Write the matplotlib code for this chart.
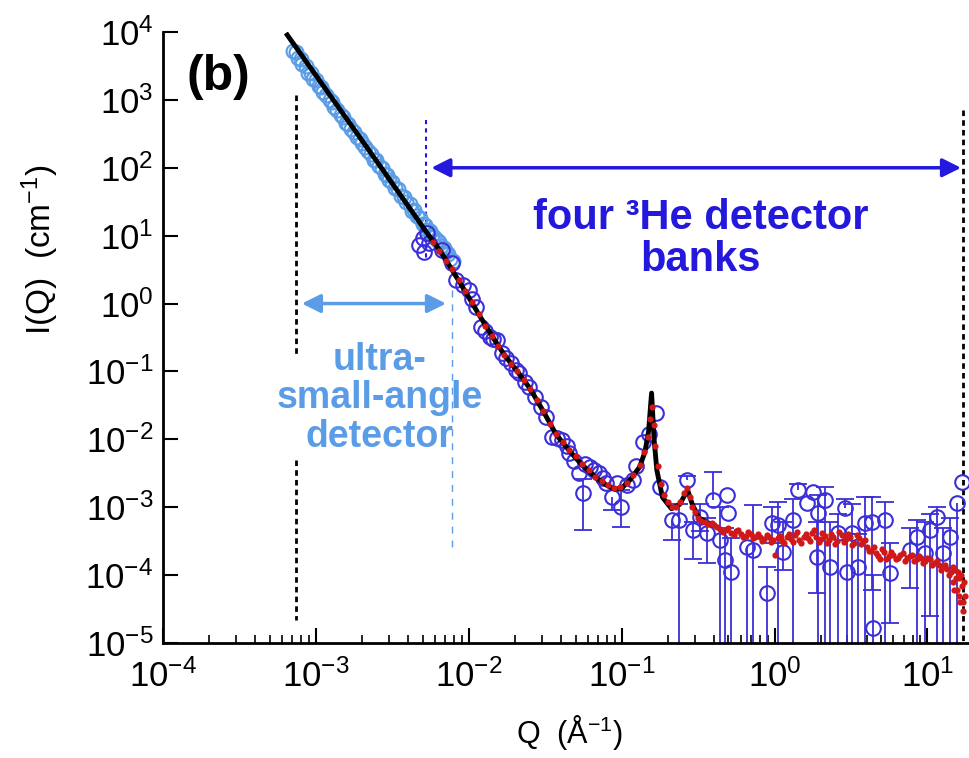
import matplotlib
matplotlib.use("Agg")
import matplotlib.pyplot as plt
from matplotlib.ticker import LogLocator, NullLocator
import numpy as np

plt.rcParams['font.family'] = ['Liberation Sans', 'DejaVu Sans']
plt.rcParams['mathtext.fontset'] = 'custom'
plt.rcParams['mathtext.rm'] = 'Liberation Sans'
plt.rcParams['mathtext.it'] = 'Liberation Sans:italic'
plt.rcParams['mathtext.bf'] = 'Liberation Sans:bold'

# ---- model fit (black line)
q_fit = [6.5e-4, 1.22e-3, 2.6e-3, 5.27e-3, 6.5e-3, 7.8e-3, 9.5e-3, 0.0116, 0.0141, 0.0171,
         0.0208, 0.0253, 0.0307, 0.0373, 0.045, 0.053, 0.061, 0.070, 0.080, 0.090,
         0.100, 0.113, 0.131, 0.142, 0.150, 0.157, 0.163, 0.170, 0.185, 0.212,
         0.24, 0.27, 0.29, 0.32, 0.36, 0.40]
i_fit = [9040, 1222, 110, 11.4, 6.0, 3.1, 1.5, 0.70, 0.34, 0.175,
         0.10, 0.055, 0.026, 0.0118, 7.0e-3, 4.6e-3, 3.4e-3, 2.6e-3, 2.1e-3, 1.85e-3,
         1.9e-3, 2.5e-3, 3.9e-3, 6.5e-3, 0.013, 0.048, 0.010, 3.5e-3, 1.4e-3, 9.5e-4,
         1.1e-3, 1.8e-3, 1.1e-3, 7.0e-4, 6.0e-4, 5.5e-4]

# ---- ultra-small-angle detector data (light blue circles, two interleaved runs)
q_usans = [7.08e-4, 7.59e-4, 8.13e-4, 8.91e-4, 9.55e-4, 1.05e-3, 1.12e-3, 1.23e-3,
           1.32e-3, 1.45e-3, 1.58e-3, 1.70e-3, 1.86e-3, 2.0e-3, 2.19e-3, 2.40e-3,
           2.57e-3, 2.82e-3, 3.02e-3, 3.31e-3, 3.63e-3, 3.89e-3, 4.27e-3, 4.57e-3,
           5.01e-3, 5.37e-3, 5.75e-3, 6.17e-3, 6.61e-3, 7.08e-3, 7.59e-3,
           7.4e-4, 8.0e-4, 8.6e-4, 9.3e-4, 1.0e-3, 1.08e-3, 1.17e-3, 1.27e-3,
           1.38e-3, 1.5e-3, 1.63e-3, 1.77e-3, 1.93e-3, 2.1e-3, 2.3e-3, 2.48e-3,
           2.7e-3, 2.92e-3, 3.16e-3, 3.45e-3, 3.76e-3, 4.1e-3, 4.4e-3, 4.8e-3,
           5.2e-3, 5.55e-3, 5.95e-3, 6.4e-3, 6.85e-3, 7.35e-3, 7.9e-3]
i_usans = [5200, 4200, 3400, 2500, 2050, 1580, 1290, 980,
           790, 600, 455, 370, 280, 230, 174, 132,
           107, 81, 66, 50, 38, 31, 23.4, 19.5,
           14.8, 12.3, 10.2, 8.5, 7.1, 5.8, 4.6,
           5050, 3940, 3150, 2450, 1950, 1550, 1200, 930,
           720, 560, 440, 340, 265, 205, 158, 128,
           99, 79, 62, 48, 37.5, 29, 23.5, 18.2,
           14.3, 11.8, 9.4, 8.0, 6.6, 5.4, 4.3]

# ---- 3He detector bank data (dark blue circles) with lower / upper error bounds
q_sans = [4.7e-3, 5.0e-3, 5.1e-3, 5.5e-3, 5.3e-3, 6.7e-3, 7.8e-3, 8.3e-3, 0.0101, 0.0112,
          0.0121, 0.0137, 0.0154, 0.0166, 0.019, 0.0214, 0.0249, 0.0299, 0.0322, 0.0352,
          0.041, 0.0456, 0.053, 0.0555, 0.0617, 0.0716, 0.0796, 0.0871, 0.0998, 0.118,
          0.137, 0.169, 0.177, 0.212, 0.239, 0.266, 0.291, 0.324, 0.36, 0.394,
          0.438, 0.472, 0.486, 0.50, 0.52, 0.658, 0.72, 0.89, 0.97, 1.05,
          1.13, 1.32, 1.42, 1.62, 1.78, 1.92, 1.89, 2.13, 2.30, 2.60,
          2.88, 3.0, 3.20, 3.51, 3.90, 4.34, 4.4, 5.27, 5.68, 7.67,
          8.53, 9.62, 10.4, 11.5, 12.6, 14.0, 15.6, 16.8,
          0.0092, 0.0105, 0.0128, 0.0145, 0.0176, 0.0203, 0.0232, 0.0272, 0.038, 0.044,
          0.049, 0.058, 0.066, 0.075, 0.093, 0.108, 0.125, 0.152]
i_sans = [7.3, 9.2, 5.8, 7.8, 11.0, 6.2, 4.0, 2.2, 1.6, 0.89,
          0.45, 0.32, 0.29, 0.19, 0.133, 0.095, 0.059, 0.030, 0.021, 0.0108,
          9.8e-3, 6.3e-3, 3.2e-3, 1.63e-3, 3.9e-3, 3.2e-3, 2.28e-3, 1.42e-3, 1.0e-3, 2.5e-3,
          9.2e-3, 0.0245, 2.0e-3, 6.5e-4, 6.5e-4, 2.5e-3, 4.6e-4, 7.2e-4, 4.2e-4, 1.28e-3,
          3.3e-4, 1.67e-4, 1.52e-3, 8.2e-4, 1.1e-4, 2.6e-4, 2.35e-4, 5.5e-5, 5.9e-4, 5.5e-4,
          2.2e-4, 6.5e-4, 1.8e-3, 1.16e-3, 1.68e-3, 8.2e-4, 1.85e-4, 1.28e-3, 1.32e-4, 4.2e-4,
          9.8e-4, 1.1e-4, 4.2e-4, 1.3e-4, 5.9e-4, 6.1e-4, 1.67e-5, 6.5e-4, 1.08e-4, 2.35e-4,
          3.66e-4, 2.1e-4, 4.6e-4, 7.2e-4, 2.1e-4, 3.66e-4, 1.16e-3, 2.36e-3,
          1.9, 1.15, 0.40, 0.30, 0.16, 0.105, 0.070, 0.042, 0.0105, 8.0e-3,
          4.8e-3, 4.3e-3, 3.5e-3, 2.7e-3, 2.3e-3, 2.1e-3, 4.0e-3, 0.012]
i_sans_lo = [7.3, 9.2, 5.8, 7.8, 11.0, 6.2, 4.0, 2.2, 1.6, 0.89,
             0.45, 0.32, 0.29, 0.19, 0.133, 0.095, 0.059, 0.030, 0.021, 0.0108,
             9.8e-3, 6.3e-3, 3.2e-3, 4.6e-4, 3.9e-3, 3.2e-3, 2.28e-3, 9e-4, 5.1e-4, 2.5e-3,
             9.2e-3, 0.0245, 2.0e-3, 3.3e-4, 1e-6, 2.5e-3, 1.7e-4, 4.5e-4, 1.5e-4, 1.28e-3,
             1e-6, 1e-6, 1.52e-3, 8.2e-4, 1e-6, 1e-6, 1e-6, 1e-6, 3.0e-4, 1e-6,
             1.2e-4, 1e-6, 1.8e-3, 1.16e-3, 1.68e-3, 1e-6, 5.5e-5, 1e-6, 1e-6, 1e-6,
             9.8e-4, 1e-6, 1e-6, 1e-6, 1e-6, 6e-5, 1e-6, 1e-6, 2.0e-5, 6.5e-5,
             1e-6, 1e-6, 2.5e-5, 1e-6, 1e-6, 1e-6, 1e-6, 2.36e-3,
             1.9, 1.15, 0.40, 0.30, 0.16, 0.105, 0.070, 0.042, 0.0105, 8.0e-3,
             4.8e-3, 4.3e-3, 3.5e-3, 2.7e-3, 2.3e-3, 2.1e-3, 4.0e-3, 0.012]
i_sans_hi = [7.3, 9.2, 5.8, 7.8, 11.0, 6.2, 4.0, 2.2, 1.6, 0.89,
             0.45, 0.32, 0.29, 0.19, 0.133, 0.095, 0.059, 0.030, 0.021, 0.0108,
             9.8e-3, 6.3e-3, 3.2e-3, 2.6e-3, 3.9e-3, 3.2e-3, 2.28e-3, 1.42e-3, 1.8e-3, 2.5e-3,
             9.2e-3, 0.0245, 2.0e-3, 6.5e-4, 1.1e-3, 2.9e-3, 6e-4, 1.1e-3, 7e-4, 3.3e-3,
             1.0e-3, 5e-4, 1.52e-3, 8.2e-4, 3.5e-4, 2.6e-4, 1.08e-3, 1.3e-4, 1.0e-3, 1.2e-3,
             6.0e-4, 1.3e-3, 2.2e-3, 1.16e-3, 1.68e-3, 1.5e-3, 6e-4, 2.0e-3, 6e-4, 8e-4,
             1.3e-3, 4e-4, 1.1e-3, 4e-4, 1.4e-3, 1.4e-3, 1e-4, 1.2e-3, 3e-4, 5e-4,
             6.5e-4, 6e-4, 8e-4, 1.0e-3, 5e-4, 7e-4, 1.16e-3, 2.36e-3,
             1.9, 1.15, 0.40, 0.30, 0.16, 0.105, 0.070, 0.042, 0.0105, 8.0e-3,
             4.8e-3, 4.3e-3, 3.5e-3, 2.7e-3, 2.3e-3, 2.1e-3, 4.0e-3, 0.012]

# ---- small red points (second data set)
q_red = [0.0058, 0.0064, 0.0071, 0.0078, 0.0086, 0.0095, 0.0105, 0.0116, 0.0128, 0.0141,
         0.0155, 0.0171, 0.0189, 0.0208, 0.0229, 0.0253, 0.0279, 0.0307, 0.0339, 0.0373,
         0.0411, 0.0453, 0.050, 0.055, 0.061, 0.067, 0.074, 0.081, 0.089, 0.098,
         0.108, 0.119, 0.131, 0.140, 0.148, 0.154, 0.158, 0.162, 0.166, 0.172,
         0.180, 0.190, 0.202, 0.215, 0.228, 0.242, 0.256, 0.268, 0.280, 0.290,
         0.30, 0.315, 0.33, 0.35, 0.37, 0.39,
         0.40, 0.44, 0.48, 0.52, 0.56, 0.60, 0.65, 0.70, 0.75, 0.80,
         0.86, 0.92, 0.98, 1.05, 1.12, 1.20, 1.28, 1.36, 1.45, 1.55,
         1.65, 1.76, 1.88, 2.0, 2.13, 2.27, 2.42, 2.58, 2.75, 2.93,
         3.12, 3.33, 3.55, 3.78, 4.0, 4.3, 4.6, 4.9, 5.2, 5.6,
         6.0, 6.4, 6.9, 7.4, 7.9, 8.5, 9.1, 9.7, 10.4, 11.1,
         11.9, 12.7, 13.5, 14.3, 14.8, 15.2, 15.6, 16.0, 16.4, 16.8, 17.2, 17.5,
         0.42, 0.46, 0.50, 0.54, 0.58, 0.62, 0.67, 0.72, 0.78, 0.83,
         0.89, 0.95, 1.01, 1.08, 1.16, 1.24, 1.32, 1.40, 1.50, 1.60,
         1.70, 1.82, 1.94, 2.06, 2.20, 2.35, 2.50, 2.66, 2.84, 3.02,
         3.22, 3.44, 3.66, 3.9, 4.15, 4.45, 4.75, 5.05, 5.4, 5.8,
         6.2, 6.65, 7.15, 7.65, 8.2, 8.8, 9.4, 10.0, 10.8, 11.5,
         12.3, 13.1, 13.9, 14.6, 15.0, 15.4, 15.8, 16.2, 16.6, 17.0, 17.3]
i_red = [8.0, 6.0, 4.3, 3.2, 2.2, 1.55, 1.05, 0.70, 0.47, 0.33,
         0.24, 0.175, 0.13, 0.10, 0.075, 0.055, 0.038, 0.026, 0.017, 0.0118,
         9.0e-3, 7.0e-3, 5.6e-3, 4.4e-3, 3.5e-3, 2.8e-3, 2.4e-3, 2.1e-3, 1.9e-3, 2.0e-3,
         2.3e-3, 3.0e-3, 4.2e-3, 6.5e-3, 0.011, 0.020, 0.030, 0.016, 8.0e-3, 4.0e-3,
         2.2e-3, 1.5e-3, 1.2e-3, 1.0e-3, 1.0e-3, 1.2e-3, 1.6e-3, 1.9e-3, 1.4e-3, 1.0e-3,
         8.5e-4, 7.0e-4, 6.2e-4, 6.0e-4, 5.6e-4, 5.8e-4,
         5.5e-4, 4.8e-4, 4.6e-4, 4.2e-4, 4.4e-4, 4.0e-4, 3.8e-4, 4.1e-4, 3.6e-4, 3.7e-4,
         3.4e-4, 3.6e-4, 3.3e-4, 3.5e-4, 3.2e-4, 3.6e-4, 3.4e-4, 3.9e-4, 3.3e-4, 3.7e-4,
         3.5e-4, 4.2e-4, 3.6e-4, 3.4e-4, 3.8e-4, 3.3e-4, 3.6e-4, 3.2e-4, 3.9e-4, 3.4e-4,
         3.6e-4, 3.0e-4, 3.5e-4, 3.2e-4, 2.6e-4, 2.3e-4, 2.1e-4, 1.7e-4, 2.2e-4, 1.9e-4,
         2.0e-4, 1.8e-4, 2.1e-4, 1.8e-4, 2.0e-4, 1.7e-4, 1.8e-4, 1.6e-4, 1.7e-4, 1.5e-4,
         1.4e-4, 1.3e-4, 1.25e-4, 1.1e-4, 8e-5, 1.2e-4, 6e-5, 9e-5, 4e-5, 7e-5, 3e-5, 5e-5,
         5.2e-4, 4.3e-4, 4.9e-4, 3.9e-4, 4.6e-4, 3.6e-4, 4.3e-4, 3.5e-4, 4.0e-4, 3.2e-4,
         3.9e-4, 3.1e-4, 2.0e-4, 3.8e-4, 3.0e-4, 4.0e-4, 3.1e-4, 4.3e-4, 3.0e-4, 4.0e-4,
         3.2e-4, 4.6e-4, 3.1e-4, 4.2e-4, 3.0e-4, 4.1e-4, 2.9e-4, 4.3e-4, 3.1e-4, 4.0e-4,
         2.8e-4, 3.9e-4, 2.9e-4, 3.3e-4, 2.3e-4, 2.6e-4, 1.9e-4, 2.4e-4, 1.7e-4, 2.2e-4,
         1.7e-4, 2.0e-4, 1.6e-4, 1.9e-4, 1.6e-4, 1.9e-4, 1.5e-4, 1.8e-4, 1.4e-4, 1.6e-4,
         1.2e-4, 1.4e-4, 1.0e-4, 1.3e-4, 6e-5, 9e-5, 1.1e-4, 5e-5, 1.0e-4, 4e-5, 8e-5]

dark_blue = '#3a2fd8'
light_blue = '#5a9de6'
arrow_blue = '#2318dc'

fig = plt.figure(figsize=(9.7, 7.58), dpi=100)
ax = fig.add_axes([163/970, 1-643/758, 1-163/970, (643-32)/758])
ax.set_xscale('log')
ax.set_yscale('log')
ax.set_xlim(1e-4, 19.0)
ax.set_ylim(1e-5, 1e4)

# light blue usans circles
ax.plot(q_usans, i_usans, 'o', ms=10, mfc='none', mec=light_blue, mew=1.5, zorder=2)

# dark blue circles + error bars
qs = np.array(q_sans)
isn = np.array(i_sans)
lo = np.array(i_sans_lo)
hi = np.array(i_sans_hi)
m = hi > lo
ax.vlines(qs[m], lo[m], hi[m], color=dark_blue, lw=1.3, zorder=2)
mlo = lo < isn
mhi = hi > isn
ax.plot(qs[mlo], lo[mlo], '_', ms=13, mew=1.3, color=dark_blue, zorder=2)
ax.plot(qs[mhi], hi[mhi], '_', ms=13, mew=1.3, color=dark_blue, zorder=2)
ax.plot(qs, isn, 'o', ms=10.5, mfc='none', mec=dark_blue, mew=1.5, zorder=3)

# fit line and red points
ax.plot(q_fit, i_fit, '-', color='black', lw=3.5, zorder=4)
ax.plot(q_red, i_red, 'o', ms=4.5, color='#d01818', mec='none', zorder=5)

# guide lines
ax.plot([7.43e-4, 7.43e-4], [1180, 0.175], color='black', lw=2, ls=(0, (2, 1.5)), zorder=1)
ax.plot([7.43e-4, 7.43e-4], [5e-3, 2.2e-5], color='black', lw=2, ls=(0, (2, 1.5)), zorder=1)
ax.plot([17.1, 17.1], [710, 1e-5], color='black', lw=2, ls=(0, (2, 1.5)), zorder=1)
ax.plot([5.27e-3, 5.27e-3], [506, 4.7], color=arrow_blue, lw=1.5, ls=(0, (2, 2)), zorder=1)
ax.plot([7.8e-3, 7.8e-3], [1.6, 2.5e-4], color=light_blue, lw=1, ls=(0, (5, 5)), zorder=1)

# arrows
ax.annotate('', xy=(16.6, 100), xytext=(5.69e-3, 100),
            arrowprops=dict(arrowstyle='<|-|>', color=arrow_blue, lw=2.5, mutation_scale=28,
                            shrinkA=0, shrinkB=0))
ax.annotate('', xy=(7.1e-3, 1.0), xytext=(8.1e-4, 1.0),
            arrowprops=dict(arrowstyle='<|-|>', color=light_blue, lw=2.5, mutation_scale=28,
                            shrinkA=0, shrinkB=0))

ax.text(0.33, 9.0, 'four ³He detector\nbanks', color=arrow_blue, fontsize=30,
        fontweight='bold', ha='center', va='center', linespacing=1.05)
ax.text(2.6e-3, 0.04, 'ultra-\nsmall-angle\ndetector', color=light_blue, fontsize=27,
        fontweight='bold', ha='center', va='center', linespacing=1.1)
ax.text(0.068, 0.926, '(b)', transform=ax.transAxes, fontsize=36, fontweight='bold',
        ha='center', va='center')

# axes style
for s in ['top', 'right']:
    ax.spines[s].set_visible(False)
for s in ['left', 'bottom']:
    ax.spines[s].set_linewidth(2)
ax.set_yticks([10.0**k for k in range(-5, 5)])
ax.yaxis.set_minor_locator(NullLocator())
ax.xaxis.set_major_locator(LogLocator(base=10, numticks=20))
ax.xaxis.set_minor_locator(LogLocator(base=10, subs=np.arange(2, 10), numticks=20))
ax.tick_params(which='major', direction='in', length=11, width=1.5, labelsize=25, pad=7)
ax.tick_params(axis='x', which='major', pad=12)
ax.tick_params(axis='x', which='minor', direction='in', length=6, width=1.2)

fig.text(40/970, 1-250/758, 'I(Q)  (cm$^{-1}$)', rotation=90, fontsize=24,
         ha='center', va='center')
fig.text(570/970, 1-733/758, 'Q  (Å$^{-1}$)', fontsize=22, ha='center', va='center')

fig.savefig('out.png', dpi=100)
